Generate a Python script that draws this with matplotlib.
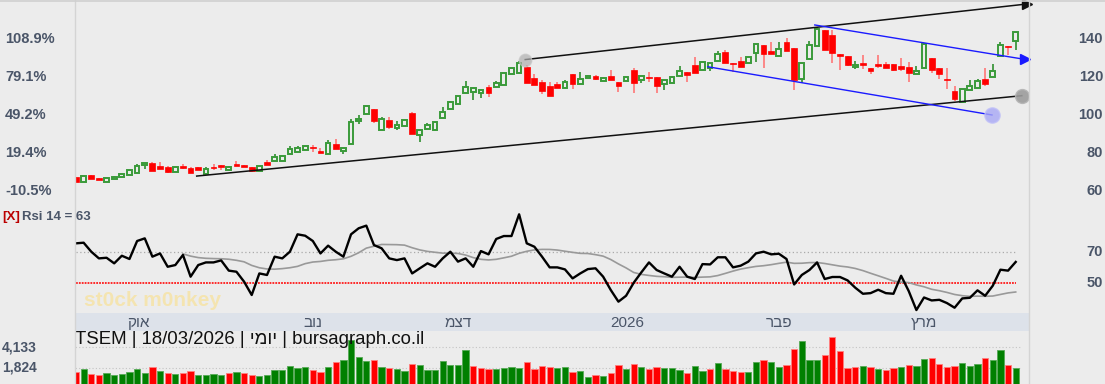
import matplotlib
matplotlib.use("Agg")
import matplotlib.pyplot as plt
import matplotlib.transforms as mtrans
from matplotlib.lines import Line2D
import numpy as np
import pandas as pd

plt.rcParams['font.family'] = ['Liberation Sans', 'DejaVu Sans']

# daily candles, TSEM
opens = [67.2, 64.6, 68.3, 66.7, 64.6, 66.3, 67.2, 68.3, 69.3, 73.4,
         74.6, 73.0, 72.5, 69.9, 73.0, 71.9, 72.5, 68.8, 72.7, 73.4,
         70.9, 74.1, 73.5, 72.5, 70.4, 75.1, 75.5, 75.5, 79.2, 80.4,
         81.5, 83.2, 81.1, 79.4, 84.6, 81.1, 84.6, 97.0, 100.5, 103.0,
         92.0, 97.3, 92.9, 94.2, 100.9, 89.4, 92.6, 92.0, 98.4, 103.1,
         105.8, 111.6, 112.1, 111.6, 114.8, 114.8, 115.8, 121.6, 122.4, 125.2,
         119.4, 117.6, 115.3, 116.2, 114.2, 121.5, 116.4, 119.4, 120.4, 117.9,
         120.6, 117.4, 117.8, 123.8, 118.7, 120.0, 120.1, 116.4, 117.1, 120.6,
         122.7, 126.4, 123.8, 124.6, 128.3, 133.1, 127.6, 128.3, 127.5, 132.7,
         137.0, 133.8, 131.2, 138.4, 135.2, 119.0, 129.6, 136.5, 144.9, 142.3,
         132.2, 131.0, 125.4, 127.5, 124.6, 127.0, 127.0, 127.0, 125.9, 125.4,
         121.8, 125.0, 130.1, 124.8, 119.0, 112.7, 107.0, 113.2, 114.4, 119.0,
         120.1, 131.2, 136.5, 139.1]
highs = [67.2, 67.9, 68.3, 66.7, 66.8, 67.9, 69.0, 70.7, 74.2, 74.8,
         75.1, 75.1, 73.0, 72.7, 74.1, 72.5, 72.5, 72.3, 74.1, 73.4,
         73.0, 75.7, 73.5, 72.5, 73.0, 76.4, 79.2, 78.5, 83.4, 83.4,
         83.8, 84.1, 82.3, 86.6, 87.3, 82.3, 97.7, 100.0, 104.9, 103.0,
         99.1, 98.9, 96.6, 98.0, 101.4, 92.0, 95.6, 96.4, 104.0, 107.6,
         110.0, 117.8, 114.2, 114.0, 115.8, 117.8, 122.4, 124.8, 128.3, 126.4,
         121.6, 118.5, 117.4, 117.6, 118.3, 121.5, 122.5, 121.2, 121.3, 119.7,
         123.8, 117.4, 120.2, 125.0, 120.6, 122.7, 120.1, 118.3, 120.8, 125.7,
         122.7, 130.8, 128.2, 127.3, 133.6, 134.3, 127.6, 130.5, 130.8, 137.3,
         137.0, 138.6, 138.4, 140.7, 135.2, 127.6, 138.9, 146.3, 144.9, 145.0,
         132.2, 131.0, 128.7, 131.5, 124.6, 131.5, 127.9, 127.0, 130.1, 128.0,
         125.9, 137.3, 130.1, 124.8, 124.6, 115.5, 113.9, 118.5, 118.8, 124.6,
         127.0, 138.4, 136.5, 143.7]
lows = [64.7, 64.6, 66.3, 65.8, 64.6, 66.3, 67.2, 68.3, 69.3, 71.6,
        70.6, 71.6, 69.3, 69.9, 71.3, 69.1, 71.1, 68.8, 71.1, 71.1,
        70.4, 73.2, 72.3, 69.8, 70.4, 73.6, 75.5, 75.5, 79.2, 80.4,
        81.5, 80.6, 80.1, 79.4, 82.2, 79.2, 84.6, 95.0, 100.5, 95.6,
        92.0, 92.6, 92.0, 94.2, 89.8, 85.9, 92.6, 91.5, 98.4, 103.1,
        105.8, 111.6, 107.9, 108.8, 109.7, 114.8, 115.8, 121.6, 122.4, 116.7,
        116.0, 111.1, 109.8, 114.4, 114.2, 113.7, 116.4, 119.4, 118.5, 117.9,
        118.7, 112.3, 117.8, 111.8, 116.7, 117.4, 111.4, 113.4, 117.1, 120.6,
        117.4, 122.0, 123.8, 123.4, 128.3, 127.6, 122.5, 125.4, 127.5, 127.8,
        125.0, 132.4, 131.2, 134.0, 113.0, 116.7, 129.6, 136.5, 134.5, 127.3,
        123.6, 126.1, 124.1, 124.5, 121.7, 124.8, 125.0, 123.1, 123.3, 117.6,
        121.8, 125.0, 122.0, 119.0, 113.9, 107.2, 107.0, 113.2, 114.4, 115.3,
        120.1, 131.2, 131.5, 134.5]
closes = [64.7, 67.9, 66.3, 65.8, 66.8, 67.4, 69.0, 70.7, 73.2, 74.8,
          70.6, 71.6, 69.9, 72.7, 71.8, 69.1, 71.1, 71.6, 72.0, 72.7,
          72.3, 73.2, 72.3, 70.4, 73.0, 73.6, 77.6, 78.5, 81.8, 82.4,
          83.8, 82.3, 80.1, 85.3, 82.2, 82.3, 96.4, 98.0, 104.9, 97.0,
          97.7, 93.5, 94.9, 97.2, 89.8, 92.0, 94.5, 96.4, 101.7, 106.7,
          110.0, 114.8, 114.2, 113.2, 111.8, 116.7, 122.4, 124.8, 127.3, 116.7,
          116.0, 112.7, 109.8, 114.4, 117.6, 116.2, 119.2, 120.8, 119.2, 119.7,
          118.7, 115.5, 120.2, 117.1, 120.6, 119.7, 115.1, 118.3, 119.9, 123.1,
          121.0, 122.0, 128.2, 127.3, 132.0, 127.6, 127.1, 125.4, 130.8, 137.3,
          132.4, 132.4, 134.9, 134.0, 118.5, 127.6, 137.2, 145.4, 134.5, 132.6,
          131.4, 126.6, 126.2, 126.2, 123.4, 126.1, 125.0, 124.0, 124.1, 122.0,
          123.4, 137.3, 123.8, 121.5, 118.3, 108.3, 113.9, 115.3, 117.8, 116.5,
          123.2, 137.0, 135.8, 143.7]
volumes = [1386, 1652, 1163, 1051, 1277, 1051, 1163, 1386, 1727, 1277,
           1952, 1501, 1277, 1163, 1277, 1425, 1051, 1051, 1163, 1051,
           1277, 1386, 1277, 1051, 939, 1051, 1614, 1614, 2064, 1840,
           1952, 1614, 1386, 1952, 2514, 2738, 4955, 3078, 2626, 2738,
           1952, 1840, 1727, 1501, 2291, 2174, 1614, 1614, 2626, 2174,
           2174, 3866, 2064, 1840, 1727, 1727, 1840, 1952, 1840, 2514,
           1727, 2064, 1952, 1840, 1952, 1386, 1501, 826, 1051, 939,
           1277, 2174, 1727, 2291, 1952, 1727, 1952, 1840, 1840, 1614,
           1277, 2064, 1501, 1727, 2403, 1727, 1501, 1386, 1386, 2514,
           2738, 2514, 1952, 2174, 3978, 4877, 2738, 2738, 3302, 5325,
           3754, 1840, 1952, 2064, 1952, 1727, 1614, 1840, 1952, 2174,
           2064, 2850, 2962, 2291, 1952, 2064, 2403, 2064, 2291, 2962,
           2738, 3866, 2174, 1840]
rsi = [75.4, 75.8, 70.0, 65.7, 66.1, 62.5, 67.4, 65.3, 76.9, 78.6,
       66.8, 68.9, 60.3, 61.4, 67.9, 53.9, 61.4, 63.1, 63.1, 64.4,
       57.8, 57.1, 50.7, 42.1, 56.0, 55.0, 66.8, 65.7, 70.0, 81.2,
       80.3, 76.9, 68.9, 73.9, 70.0, 66.8, 81.2, 85.1, 86.8, 74.3,
       72.2, 65.7, 64.6, 65.7, 56.0, 59.3, 62.5, 60.3, 65.7, 70.0,
       63.6, 65.7, 60.3, 70.4, 68.3, 78.2, 80.1, 80.1, 94.1, 75.4,
       73.2, 66.8, 59.9, 59.9, 58.6, 52.8, 56.0, 58.8, 59.3, 53.9,
       45.3, 37.8, 41.6, 50.0, 56.7, 63.1, 58.2, 56.0, 53.9, 60.3,
       53.9, 52.4, 62.0, 61.8, 66.4, 66.4, 59.9, 61.0, 63.6, 68.9,
       70.0, 68.3, 68.7, 65.3, 48.9, 55.0, 58.2, 63.1, 52.4, 53.7,
       53.7, 51.5, 46.8, 42.9, 43.3, 45.5, 43.3, 42.9, 54.5, 44.6,
       32.4, 40.5, 38.6, 39.0, 36.9, 33.9, 39.9, 40.3, 45.1, 41.6,
       48.1, 58.4, 57.8, 63.4]

price_ticks = [140, 120, 100, 80, 60]
pct_labels = ["108.9%", "79.1%", "49.2%", "19.4%", "-10.5%"]
rsi_ticks = [70, 50]
vol_ticks = [4133, 1824]
month_pos = [8.1, 31.0, 50.0, 72.1, 92.0, 111.0]
month_labels = ["אוק", "נוב", "דצמ", "2026", "פבר", "מרץ"]

# hand-drawn trend lines (bar index, price)
black_low = ([15.8, 123.8], [67.7, 110.2])
black_up = ([58.8, 124.5], [129.3, 158.7])
blue_up = ([96.7, 124.2], [147.6, 129.4])
blue_low = ([82.7, 119.9], [125.5, 100.0])

title = "TSEM | 18/03/2026 | " + "יומי"[::-1] + " | bursagraph.co.il"

W, H = 1105, 384
LEFT, RIGHT = 75, 1029
BG = '#ececec'
SLATE = '#4a5568'

fig = plt.figure(figsize=(W / 100, H / 100), dpi=100, facecolor=BG)


def panel(top, bottom):
    ax = fig.add_axes([LEFT / W, 1 - bottom / H, (RIGHT - LEFT) / W, (bottom - top) / H])
    ax.set_facecolor('none')
    ax.set_xlim(-0.13, 124.74)
    ax.set_xticks([])
    ax.set_yticks([])
    for s in ax.spines.values():
        s.set_visible(False)
    return ax


o = np.array(opens)
h = np.array(highs)
l = np.array(lows)
c = np.array(closes)
x = np.arange(len(c))
up = c >= o

# --- price panel
ax = panel(0, 205)
ax.set_ylim(52.4, 160.8)
wick_col = np.where(up, '#2f8f2f', '#ff7777')
ax.vlines(x, l, h, colors=wick_col, lw=1.2, zorder=2)
body_b = np.minimum(o, c)
body_h = np.maximum(np.abs(c - o), 0.4)
ax.bar(x[up], body_h[up], bottom=body_b[up], width=0.62, facecolor=BG,
       edgecolor='#3a9a3a', lw=1.4, zorder=3)
ax.bar(x[~up], body_h[~up], bottom=body_b[~up], width=0.76, facecolor='#ff0000',
       edgecolor='#ff0000', lw=0.5, zorder=3)

ax.plot(*black_low, color='#111111', lw=1.1, zorder=4)
ax.plot(*black_up, color='#111111', lw=1.1, zorder=4)
ax.plot(*blue_up, color='#1a1aff', lw=1.0, zorder=4)
ax.plot(*blue_low, color='#1a1aff', lw=1.0, zorder=4)
ax.plot(black_up[0][1], black_up[1][1], marker='>', ms=7, color='#111111', clip_on=False, zorder=5)
ax.plot(blue_up[0][1], blue_up[1][1], marker='>', ms=7, color='#1a1aff', clip_on=False, zorder=5)
ax.plot(black_low[0][1], black_low[1][1], 'o', ms=10, mfc='#9c9c9c', mec='#b5b5b5', alpha=0.9, zorder=5)
ax.plot(black_up[0][0], black_up[1][0], 'o', ms=9, mfc='#b0b0b0', mec='#c5c5c5', alpha=0.7, zorder=5)
ax.plot(blue_low[0][1], blue_low[1][1], 'o', ms=11, mfc='#a8a8f5', mec='#c0c0f8', alpha=0.8, zorder=5)

tr = mtrans.blended_transform_factory(fig.transFigure, ax.transData)
for p, lab in zip(price_ticks, pct_labels):
    ax.text(5 / W, p, lab, transform=tr, ha='left', va='center', fontsize=10.5,
            fontweight='bold', color=SLATE)
    ax.text(1103 / W, p, str(p), transform=tr, ha='right', va='center', fontsize=10.5,
            fontweight='bold', color=SLATE)

# --- RSI panel
ax_r = panel(205, 313)
ax_r.set_ylim(30.5, 100.1)
rsi_ma = pd.Series(rsi).rolling(15).mean()
ax_r.hlines(70, 0, len(x) - 1, colors='#aaaaaa', linestyles=(0, (1, 2)), lw=0.9)
ax_r.hlines(50, 0, len(x) - 1, colors='#ff1a1a', linestyles=(0, (1, 0.6)), lw=1.3)
ax_r.plot(x, rsi_ma, color='#999999', lw=1.2)
ax_r.plot(x, rsi, color='#000000', lw=1.7)
tr_r = mtrans.blended_transform_factory(fig.transFigure, ax_r.transData)
for v in rsi_ticks:
    ax_r.text(1103 / W, v, str(v), transform=tr_r, ha='right', va='center', fontsize=10.5,
              fontweight='bold', color=SLATE)
fig.text(2 / W, 1 - 217 / H, "[X]", color='#bb0000', fontsize=9.5, fontweight='bold', va='center')
fig.text(22 / W, 1 - 217 / H, f"Rsi 14 = {int(rsi[-1])}", color=SLATE, fontsize=9.5,
         fontweight='bold', va='center')
fig.text(84 / W, 1 - 301 / H, "st0ck m0nkey", color='#f6e3a6', fontsize=15,
         fontweight='bold', va='center', alpha=0.85)

# --- date band
ax_d = panel(313, 331)
ax_d.set_facecolor('#dde2ea')
for pos, lab in zip(month_pos, month_labels):
    txt = lab if lab.isdigit() else lab[::-1]
    ax_d.text(pos, 0.45, txt, transform=ax_d.get_xaxis_transform(), ha='center', va='center',
              fontsize=11, color=SLATE)

# --- volume panel
ax_v = panel(331, 384)
ax_v.set_ylim(0, 5968)
vol_up = np.r_[c[0] >= o[0], c[1:] >= c[:-1]]
ax_v.bar(x[vol_up], np.array(volumes)[vol_up], width=0.82, color='#008000',
         edgecolor='#55aa55', lw=0.6)
ax_v.bar(x[~vol_up], np.array(volumes)[~vol_up], width=0.82, color='#ff0000',
         edgecolor='#ff8080', lw=0.6)
ax_v.hlines(vol_ticks, -0.5, len(x) - 0.5, colors='#c4c4c4', linestyles=(0, (1, 2)), lw=0.8, zorder=0)
tr_v = mtrans.blended_transform_factory(fig.transFigure, ax_v.transData)
for v in vol_ticks:
    ax_v.text(2 / W, v, f"{v:,}", transform=tr_v, ha='left', va='center', fontsize=10,
              fontweight='bold', color=SLATE)
ax_v.text(0, 1 - 9 / 53, title, transform=ax_v.transAxes, ha='left', va='center',
          fontsize=13.4, color='#111111', zorder=10)

# separators
fig.add_artist(Line2D([LEFT / W, LEFT / W], [0, 1], color='#d4d4d4', lw=1))
fig.add_artist(Line2D([RIGHT / W, RIGHT / W], [0, 1], color='#d4d4d4', lw=1))
fig.add_artist(Line2D([0, 1], [1 - 0.5 / H, 1 - 0.5 / H], color='#d0d0d0', lw=1.2))

fig.savefig("out.png", dpi=100, facecolor=BG)
